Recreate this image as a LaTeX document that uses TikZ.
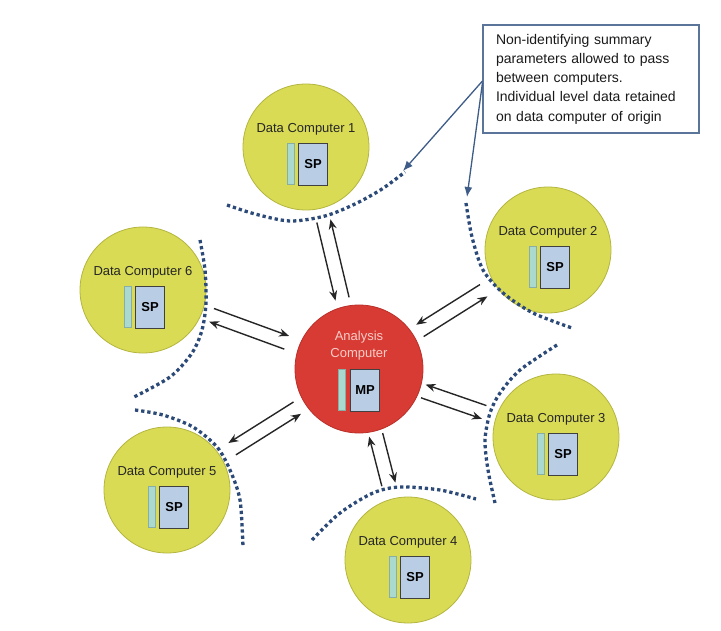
\documentclass[tikz,border=0pt]{standalone}
\usepackage{fontspec}
\setmainfont{Liberation Sans}
\usetikzlibrary{calc,arrows.meta}
\definecolor{dcyellow}{HTML}{D9DB55}
\definecolor{dcedge}{HTML}{B4B53F}
\definecolor{acred}{HTML}{D83B34}
\definecolor{acedge}{HTML}{B92F29}
\definecolor{actext}{HTML}{F7CDC8}
\definecolor{spblue}{HTML}{B9CDE5}
\definecolor{barteal}{HTML}{AADACF}
\definecolor{fencenavy}{HTML}{2C4A78}
\definecolor{notenavy}{HTML}{3D5C88}

\begin{document}
\begin{tikzpicture}[x=1pt,y=-1pt,
dc/.style = {circle, fill=dcyellow, draw=dcedge, line width=0.8pt, minimum size=126pt, inner sep=0pt},
ac/.style = {circle, fill=acred, draw=acedge, line width=0.8pt, minimum size=128pt, inner sep=0pt},
lbl/.style = {font=\fontsize{13}{15}\selectfont, text=black!85, inner sep=0pt},
aclbl/.style = {font=\fontsize{13}{17}\selectfont, text=actext, inner sep=0pt, align=center},
spbox/.style = {rectangle, fill=spblue, draw=black!75, line width=0.9pt, minimum width=29pt, minimum height=42pt, inner sep=0pt, font=\bfseries\fontsize{13}{15}\selectfont},
sidebar/.style = {rectangle, fill=barteal, draw=barteal!80!black, line width=0.4pt, minimum width=7pt, minimum height=41pt, inner sep=0pt},
fence/.style = {draw=fencenavy, line width=3.3pt, dash pattern=on 3.3pt off 2.9pt},
arr/.style = {-{Stealth[length=10pt,width=8pt]}, line width=1.4pt, black!85},
pointer/.style = {-{Latex[length=10pt,width=8pt]}, line width=1.3pt, notenavy},
notebox/.style = {rectangle, draw=notenavy!85, line width=1.1pt, minimum width=216pt, minimum height=108pt, text width=190pt, align=left, inner sep=0pt, font=\fontsize{14}{19.3}\selectfont, text=black!90}]
\useasboundingbox (0,0) rectangle (721,631);

% analysis computer
\node[ac] (ac) at (359,369) {};
\node[aclbl] (aclbl) at ([yshift=23pt]ac) {Analysis\\Computer};
\node[sidebar] (acbar) at ([xshift=-17pt,yshift=-21pt]ac) {};
\node[spbox] (acmp) at ([xshift=6pt,yshift=-21pt]ac) {MP};

% data computers
\node[dc] (dc1) at (306,147) {};
\node[lbl] (dc1lbl) at ([yshift=18pt]dc1) {Data Computer 1};
\node[sidebar] (dc1bar) at ([xshift=-15pt,yshift=-17pt]dc1) {};
\node[spbox] (dc1sp) at ([xshift=7pt,yshift=-17pt]dc1) {SP};

\node[dc] (dc2) at (548,250) {};
\node[lbl] (dc2lbl) at ([yshift=18pt]dc2) {Data Computer 2};
\node[sidebar] (dc2bar) at ([xshift=-15pt,yshift=-17pt]dc2) {};
\node[spbox] (dc2sp) at ([xshift=7pt,yshift=-17pt]dc2) {SP};

\node[dc] (dc3) at (556,437) {};
\node[lbl] (dc3lbl) at ([yshift=18pt]dc3) {Data Computer 3};
\node[sidebar] (dc3bar) at ([xshift=-15pt,yshift=-17pt]dc3) {};
\node[spbox] (dc3sp) at ([xshift=7pt,yshift=-17pt]dc3) {SP};

\node[dc] (dc4) at (408,560) {};
\node[lbl] (dc4lbl) at ([yshift=18pt]dc4) {Data Computer 4};
\node[sidebar] (dc4bar) at ([xshift=-15pt,yshift=-17pt]dc4) {};
\node[spbox] (dc4sp) at ([xshift=7pt,yshift=-17pt]dc4) {SP};

\node[dc] (dc5) at (167,490) {};
\node[lbl] (dc5lbl) at ([yshift=18pt]dc5) {Data Computer 5};
\node[sidebar] (dc5bar) at ([xshift=-15pt,yshift=-17pt]dc5) {};
\node[spbox] (dc5sp) at ([xshift=7pt,yshift=-17pt]dc5) {SP};

\node[dc] (dc6) at (143,290) {};
\node[lbl] (dc6lbl) at ([yshift=18pt]dc6) {Data Computer 6};
\node[sidebar] (dc6bar) at ([xshift=-15pt,yshift=-17pt]dc6) {};
\node[spbox] (dc6sp) at ([xshift=7pt,yshift=-17pt]dc6) {SP};

% dotted boundaries
\draw[fence] plot[smooth] coordinates {(227,205) (255,214) (290,221) (325,216) (355,204) (382,189) (405,172)};
\draw[fence] plot[smooth] coordinates {(466,203) (472,237) (483,270) (503,293) (533,313) (572,328)};
\draw[fence] plot[smooth] coordinates {(557,345) (520,370) (500,393) (490,413) (485,440) (488,470) (495,503)};
\draw[fence] plot[smooth] coordinates {(312,540) (340,513) (373,493) (400,487) (440,490) (476,499)};
\draw[fence] plot[smooth] coordinates {(135,410) (163,415) (193,427) (217,447) (230,470) (240,500) (243,547)};
\draw[fence] plot[smooth] coordinates {(200,240) (205,270) (206,303) (202,330) (192,353) (170,377) (132,398)};

% parameter exchange
\draw[arr] ($(dc1)!76pt!(ac)!7pt!-90:(ac)$) -- ($(ac)!72pt!(dc1)!7pt!90:(dc1)$);
\draw[arr] ($(ac)!72pt!(dc1)!7pt!-90:(dc1)$) -- ($(dc1)!76pt!(ac)!7pt!90:(ac)$);
\draw[arr] ($(dc2)!76pt!(ac)!7pt!-90:(ac)$) -- ($(ac)!72pt!(dc2)!7pt!90:(dc2)$);
\draw[arr] ($(ac)!72pt!(dc2)!7pt!-90:(dc2)$) -- ($(dc2)!76pt!(ac)!7pt!90:(ac)$);
\draw[arr] ($(dc3)!76pt!(ac)!7pt!-90:(ac)$) -- ($(ac)!68pt!(dc3)!7pt!90:(dc3)$);
\draw[arr] ($(ac)!68pt!(dc3)!7pt!-90:(dc3)$) -- ($(dc3)!76pt!(ac)!7pt!90:(ac)$);
\draw[arr] ($(dc4)!78pt!(ac)!7pt!90:(ac)$) -- ($(ac)!68pt!(dc4)!7pt!-90:(dc4)$);
\draw[arr] ($(ac)!68pt!(dc4)!7pt!90:(dc4)$) -- ($(dc4)!78pt!(ac)!7pt!-90:(ac)$);
\draw[arr] ($(dc5)!77pt!(ac)!7pt!-90:(ac)$) -- ($(ac)!73pt!(dc5)!7pt!90:(dc5)$);
\draw[arr] ($(ac)!73pt!(dc5)!7pt!-90:(dc5)$) -- ($(dc5)!77pt!(ac)!7pt!90:(ac)$);
\draw[arr] ($(dc6)!73pt!(ac)!7pt!90:(ac)$) -- ($(ac)!77pt!(dc6)!7pt!-90:(dc6)$);
\draw[arr] ($(ac)!77pt!(dc6)!7pt!90:(dc6)$) -- ($(dc6)!73pt!(ac)!7pt!-90:(ac)$);

% note
\node[notebox] (note) at (591,79) {Non-identifying summary\\parameters allowed to pass\\between computers.\\Individual level data retained\\on data computer of origin};
\coordinate (tip1) at (403,171);
\coordinate (tip2) at (467,197);
\draw[pointer] ([yshift=-2pt]note.west) -- (tip1);
\draw[pointer] ([yshift=-4pt]note.west) -- (tip2);

\end{tikzpicture}
\end{document}
